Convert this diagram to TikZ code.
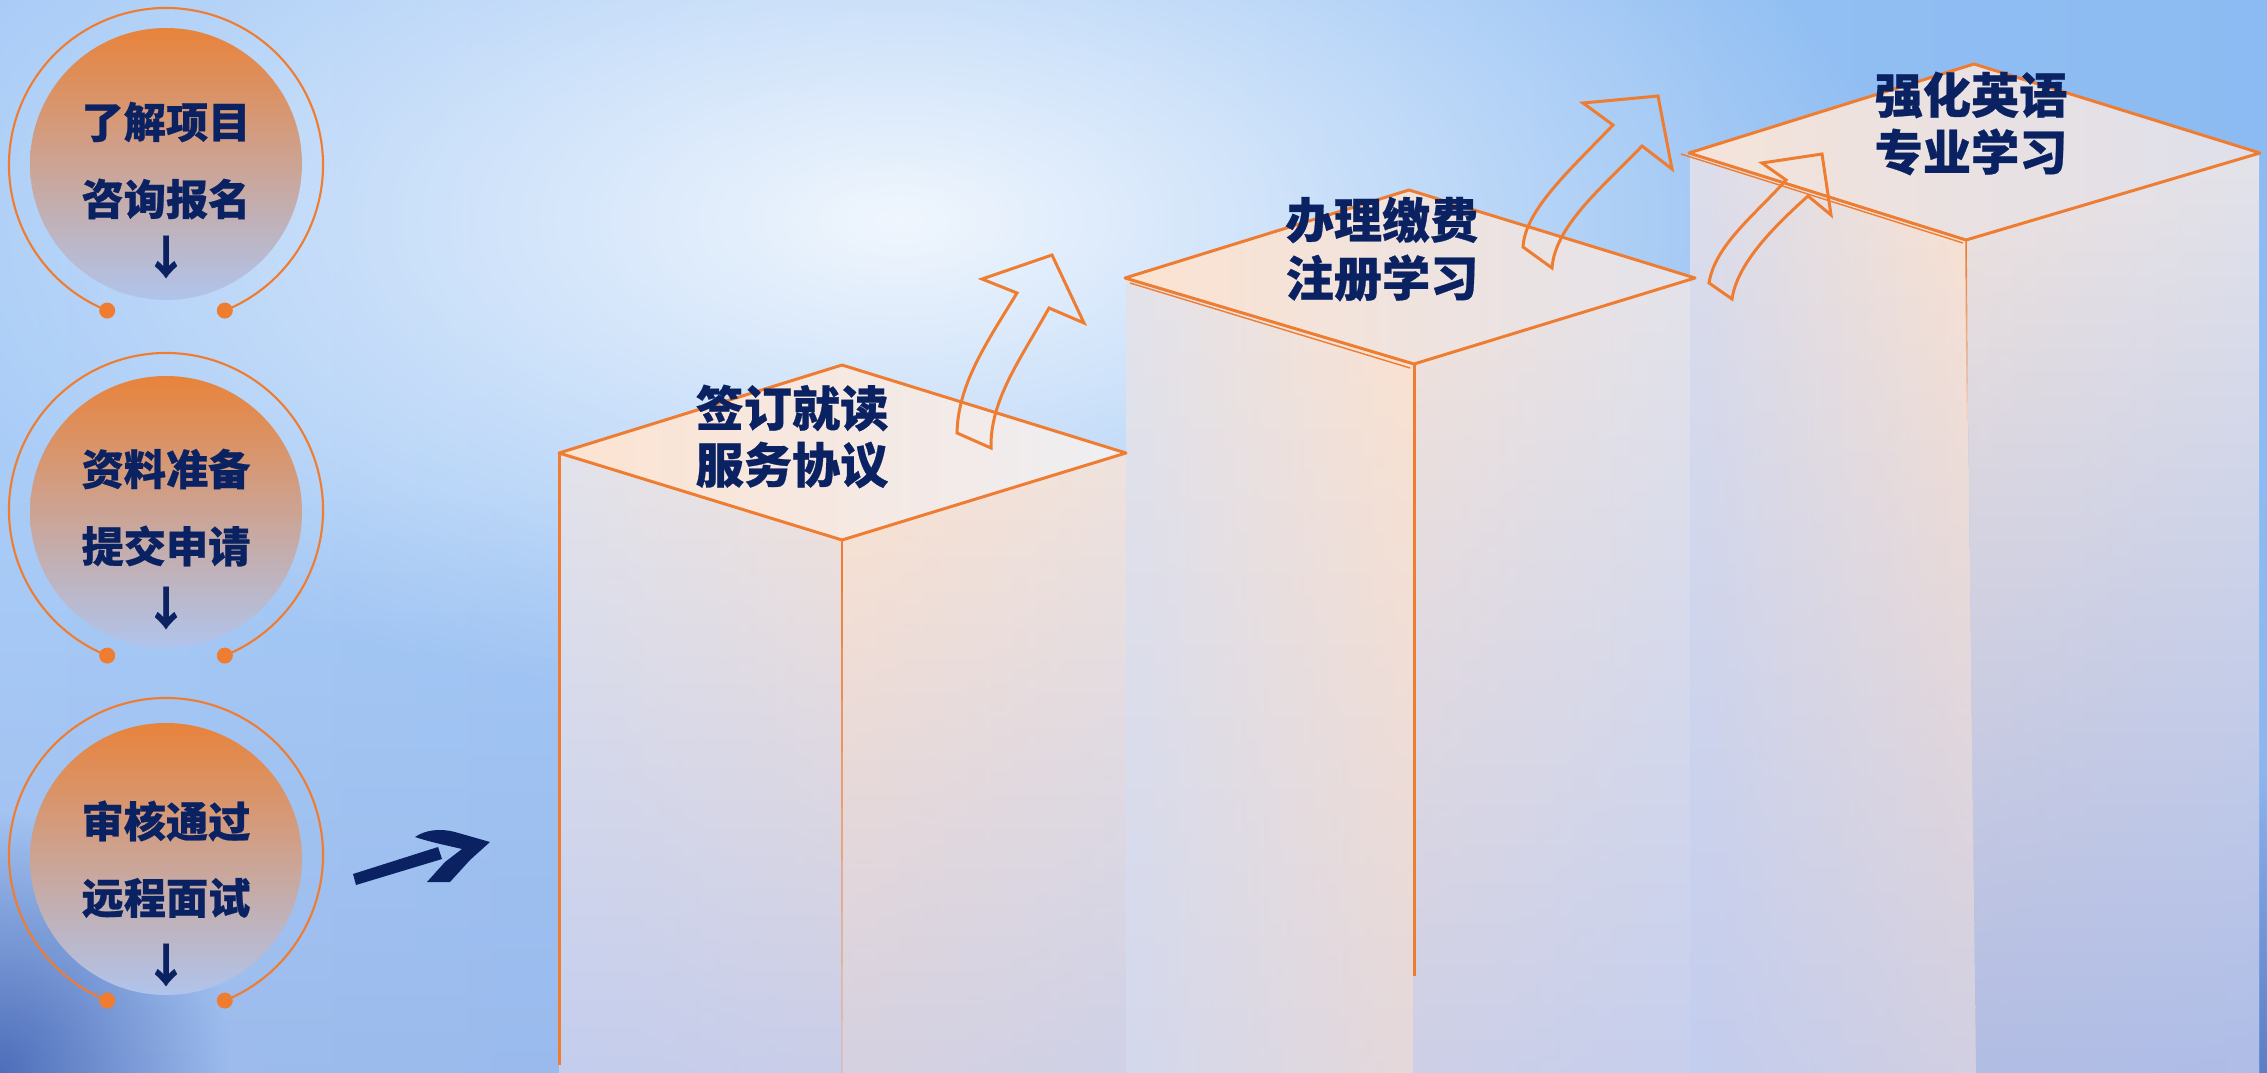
\documentclass[tikz,border=0pt]{standalone}
\usepackage{fontspec}
\newfontfamily\cjk{Noto Sans CJK SC}[BoldFeatures={FakeBold=0.6}]
\usetikzlibrary{fadings}
\definecolor{orl}{HTML}{EE7D32}
\definecolor{navy}{HTML}{0B2262}
\definecolor{bgL}{HTML}{A9CCF7}
\definecolor{bgR}{HTML}{8BBBF2}
\definecolor{bgDark}{HTML}{3A5AAE}
\definecolor{cTop}{HTML}{E8833B}
\definecolor{cMid}{HTML}{CCA796}
\definecolor{cBot}{HTML}{B0C4EC}
\definecolor{peach}{HTML}{FCE3D1}
\definecolor{greyl}{HTML}{E3E3EB}
\definecolor{blu}{HTML}{AFBFF0}
\tikzfading[name=vfade, top color=transparent!100, bottom color=transparent!0]
\tikzfading[name=rfade, inner color=transparent!0, outer color=transparent!100]
\begin{document}
\begin{tikzpicture}[x=0.01cm,y=-0.01cm,
  ctext/.style={font=\cjk\bfseries\fontsize{12pt}{14pt}\selectfont, text=navy, inner sep=0pt},
  btext/.style={font=\cjk\bfseries\fontsize{13.7pt}{16pt}\selectfont, text=navy, inner sep=0pt},
  carrow/.style={font=\cjk\bfseries\fontsize{13pt}{14pt}\selectfont, text=navy, inner sep=0pt},
  edge/.style={draw=orl, line width=0.85pt, line join=round},
  thinedge/.style={draw=orl, line width=0.4pt},
  arrowout/.style={draw=orl, line width=0.85pt, line join=miter}]
\useasboundingbox (0,0) rectangle (2267,1073);
\clip (0,0) rectangle (2267,1073);
% background
\shade[left color=bgL, right color=bgR] (0,0) rectangle (2267,1073);
\fill[white, path fading=rfade, fill opacity=0.85] (900,220) ellipse [x radius=1000, y radius=500];
\fill[blu!70!bgDark, path fading=vfade, fill opacity=0.35] (0,500) rectangle (2267,1073);
\fill[bgDark, path fading=rfade, fill opacity=0.8] (0,1073) ellipse [x radius=230, y radius=260];
\fill[bgDark, path fading=rfade, fill opacity=0.6] (2267,1073) ellipse [x radius=300, y radius=300];

% ---------- box 1 ----------
\shade[left color=greyl, right color=peach!60!greyl] (559,453) -- (842,540) -- (842,1073) -- (559,1073) -- cycle;
\fill[blu, path fading=vfade, fill opacity=0.6] (559,453) -- (842,540) -- (842,1073) -- (559,1073) -- cycle;
\shade[left color=peach, right color=peach!50!greyl] (842,540) -- (1126,453) -- (1126,1073) -- (842,1073) -- cycle;
\fill[blu, path fading=vfade, fill opacity=0.5] (842,540) -- (1126,453) -- (1126,1073) -- (842,1073) -- cycle;
\shade[left color=peach, right color=greyl!60!white] (559,453) -- (842,365) -- (1126,453) -- (842,540) -- cycle;
% ---------- box 2 ----------
\shade[left color=greyl, right color=peach] (1126,278) -- (1413,364) -- (1413,1073) -- (1126,1073) -- cycle;
\fill[blu, path fading=vfade, fill opacity=0.3] (1126,278) -- (1413,364) -- (1413,1073) -- (1126,1073) -- cycle;
\shade[left color=peach!60!greyl, right color=greyl] (1413,364) -- (1695,278) -- (1695,1073) -- (1413,1073) -- cycle;
\fill[blu, path fading=vfade, fill opacity=0.55] (1413,364) -- (1695,278) -- (1695,1073) -- (1413,1073) -- cycle;
\shade[left color=peach, right color=greyl] (1125,278) -- (1409,190) -- (1695,278) -- (1413,364) -- cycle;
% ---------- box 3 ----------
\shade[left color=greyl!85!blu, right color=peach] (1690,153) -- (1966,240) -- (1976,1073) -- (1690,1073) -- cycle;
\fill[blu, path fading=vfade, fill opacity=0.55] (1690,153) -- (1966,240) -- (1976,1073) -- (1690,1073) -- cycle;
\shade[left color=peach!50!greyl, right color=greyl] (1966,240) -- (2259,153) -- (2259,1073) -- (1976,1073) -- cycle;
\fill[blu!85!bgDark, path fading=vfade, fill opacity=0.75] (1966,240) -- (2259,153) -- (2259,1073) -- (1976,1073) -- cycle;
\shade[left color=peach!70!greyl, right color=greyl!90!blu] (1689,153) -- (1974,64) -- (2260,153) -- (1966,240) -- cycle;

% ---------- box edges ----------
\draw[edge] (559,453) -- (842,365) -- (1126,453) -- (842,540) -- cycle;
\draw[edge] (559,453) -- (559,1065);
\foreach \k in {0,...,9}{
  \draw[orl, line width=0.45pt, draw opacity={1-\k*0.09}] (842,{540+\k*53.3}) -- (842,{540+(\k+1)*53.3});
  \draw[orl, line width=0.45pt, draw opacity={1-\k*0.1}] ({1966+\k*0.12},{240+\k*18}) -- ({1966+(\k+1)*0.12},{240+(\k+1)*18});
}
\draw[edge] (1125,278) -- (1409,190) -- (1695,278) -- (1414,364) -- cycle;
\draw[thinedge] (1130,283) -- (1410,368);
\draw[edge] (1414,364) -- (1414,976);
\draw[edge] (1689,153) -- (1974,64) -- (2260,153) -- (1966,240) -- cycle;
\draw[thinedge] (1681,154) -- (1963,243);

% ---------- curved arrows ----------
\draw[arrowout] (957,433) .. controls (958,385) and (985,345) .. (1017,293)
  -- (982,279) -- (1052,255) -- (1084,323) -- (1049,308)
  .. controls (1020,360) and (990,400) .. (991,448) -- cycle;
\draw[arrowout] (1523,247) .. controls (1525,210) and (1570,170) .. (1613,125)
  -- (1583,103) -- (1658,96) -- (1672,169) -- (1642,146)
  .. controls (1605,185) and (1555,225) .. (1552,268) -- cycle;
\draw[arrowout] (1709,283) .. controls (1715,245) and (1755,215) .. (1786,180)
  -- (1762,163) -- (1822,154) -- (1831,215) -- (1808,196)
  .. controls (1770,230) and (1737,265) .. (1732,299) -- cycle;

% ---------- circles ----------
\foreach \cy/\iy in {165/164, 510/512, 855/859}{
  \shade[top color=cTop, middle color=cMid, bottom color=cBot] (166,\iy) circle (136);
  \draw[orl, line width=0.6pt] (166,\cy) ++(112:157) arc[start angle=112, end angle=428, radius=157];
  \fill[orl] (166,\cy) ++(112:157) circle (8);
  \fill[orl] (166,\cy) ++(68:157) circle (8);
}
\node[ctext] (c1a) at (166,122) {了解项目};
\node[ctext] (c1b) at (166,199) {咨询报名};
\node[carrow] (c1c) at (166,257) {↓};
\node[ctext] (c2a) at (166,469) {资料准备};
\node[ctext] (c2b) at (166,546) {提交申请};
\node[carrow] (c2c) at (166,608) {↓};
\node[ctext] (c3a) at (166,821) {审核通过};
\node[ctext] (c3b) at (166,898) {远程面试};
\node[carrow] (c3c) at (166,965) {↓};

% ---------- navy arrow ----------
\fill[navy] (353,874) -- (438,847) -- (442,859) -- (356,885) -- cycle;
\fill[navy] (415,837) .. controls (425,830) and (440,828) .. (455,832)
  -- (490,842) -- (470,860) -- (450,882) -- (427,882)
  -- (445,862) -- (462,849) .. controls (445,845) and (430,842) .. (415,837) -- cycle;

% ---------- box texts ----------
\node[btext] (b1a) at (792,408) {签订就读};
\node[btext] (b1b) at (792,465) {服务协议};
\node[btext] (b2a) at (1382,220) {办理缴费};
\node[btext] (b2b) at (1382,278) {注册学习};
\node[btext] (b3a) at (1971,95) {强化英语};
\node[btext] (b3b) at (1971,152) {专业学习};
\end{tikzpicture}
\end{document}
